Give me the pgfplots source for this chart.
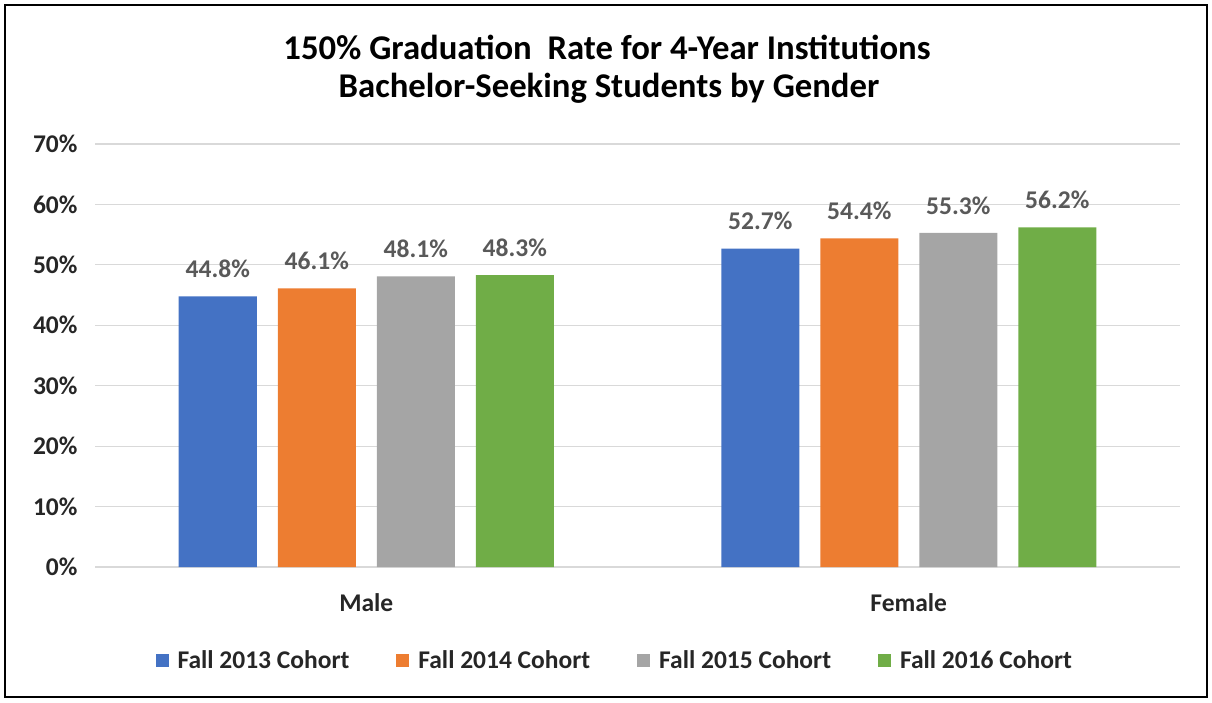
\documentclass[border=0pt]{standalone}
\usepackage{pgfplots}
\pgfplotsset{compat=1.18}
\usepackage{fontspec}
\setmainfont{Carlito}
\definecolor{cBlue}{HTML}{4472C4}
\definecolor{cOrange}{HTML}{ED7D31}
\definecolor{cGray}{HTML}{A5A5A5}
\definecolor{cGreen}{HTML}{70AD47}
\definecolor{txtGray}{HTML}{595959}
\definecolor{tickTxt}{HTML}{262626}
\definecolor{gridC}{HTML}{D9D9D9}
\begin{document}
\begin{tikzpicture}
\useasboundingbox (0pt,0pt) rectangle (1212pt,702pt);
\draw[line width=2pt] (5pt,5pt) rectangle (1207pt,697pt);
\node[font=\fontsize{34.7}{40}\bfseries\selectfont] at (607pt,655pt) {150\% Graduation\ \ Rate for 4-Year Institutions};
\node[font=\fontsize{34.7}{40}\bfseries\selectfont] at (609pt,614pt) {Bachelor-Seeking Students by Gender};
\begin{axis}[
  at={(95pt,135pt)}, anchor=south west,
  scale only axis, width=1085pt, height=423pt,
  xmin=-0.5, xmax=1.5, ymin=0, ymax=70,
  ybar=21pt, bar width=78pt,
  xtick={0,1}, xticklabels={Male,Female},
  ytick={0,10,...,70},
  yticklabel={\pgfmathprintnumber{\tick}\%},
  /pgf/number format/assume math mode=true,
  ymajorgrids, grid style={gridC, line width=1.2pt},
  axis x line*=bottom, axis y line*=left,
  x axis line style={gridC, line width=1.2pt, -},
  y axis line style={draw=none},
  major tick length=0pt,
  tick label style={font=\fontsize{25.5}{30}\bfseries\selectfont, text=tickTxt},
  yticklabel style={xshift=-14pt},
  xticklabel style={yshift=-23pt},
  nodes near coords={\pgfmathprintnumber[fixed,fixed zerofill,precision=1]{\pgfplotspointmeta}\%},
  nodes near coords style={font=\fontsize{25.5}{30}\bfseries\selectfont, text=txtGray, yshift=15pt},
  every axis plot/.append style={draw=none},
  legend columns=4,
  legend style={at={(0.479,-0.22)}, anchor=center, draw=none, fill=none,
    font=\fontsize{25.5}{30}\bfseries\selectfont, text=tickTxt,
    /tikz/every even column/.append style={column sep=45pt},
    /tikz/every odd column/.append style={column sep=7pt}},
  legend image code/.code={\fill[#1] (0pt,-6.5pt) rectangle (13pt,6.5pt);},
]
\addplot[fill=cBlue] coordinates {(0,44.8) (1,52.7)};
\addplot[fill=cOrange] coordinates {(0,46.1) (1,54.4)};
\addplot[fill=cGray] coordinates {(0,48.1) (1,55.3)};
\addplot[fill=cGreen] coordinates {(0,48.3) (1,56.2)};
\legend{Fall 2013 Cohort, Fall 2014 Cohort, Fall 2015 Cohort, Fall 2016 Cohort}
\end{axis}
\end{tikzpicture}
\end{document}
